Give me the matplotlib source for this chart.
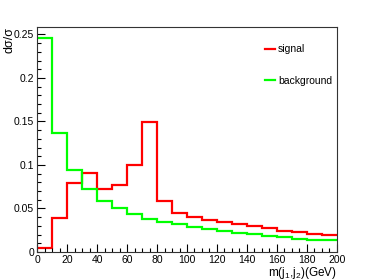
import matplotlib
matplotlib.use("Agg")
import matplotlib.pyplot as plt
from matplotlib.ticker import MultipleLocator, FormatStrFormatter
import numpy as np

plt.rcParams['font.family'] = ['Liberation Sans', 'DejaVu Sans']

# bin edges in GeV
edges = np.arange(0, 210, 10)
signal = [0.005, 0.039, 0.079, 0.0905, 0.072, 0.0775, 0.1005, 0.149, 0.059, 0.045,
          0.040, 0.0366, 0.0346, 0.0323, 0.0297, 0.0274, 0.0243, 0.0228, 0.0212, 0.019]
background = [0.2454, 0.137, 0.094, 0.0722, 0.059, 0.050, 0.0438, 0.0377, 0.0343, 0.032,
              0.0289, 0.0259, 0.0239, 0.0224, 0.0205, 0.0185, 0.0174, 0.0155, 0.0139, 0.0136]

fig = plt.figure(figsize=(3.74, 2.80), dpi=100)
ax = fig.add_axes([0.099, 0.1, 0.802, 0.8036])

ax.stairs(signal, edges, baseline=None, color="#ff0000", lw=1.6, label="signal")
ax.stairs(background, edges, baseline=None, color="#00ff00", lw=1.6, label="background")

ax.set_xlim(0, 200)
ax.set_ylim(0, 0.2585)

ax.xaxis.set_major_locator(MultipleLocator(20))
ax.xaxis.set_minor_locator(MultipleLocator(5))
ax.yaxis.set_major_locator(MultipleLocator(0.05))
ax.yaxis.set_minor_locator(MultipleLocator(0.01))
ax.yaxis.set_major_formatter(FormatStrFormatter('%g'))
ax.tick_params(which='both', direction='in', top=False, right=False, labelsize=7.5, pad=2)
ax.tick_params(which='major', length=6, width=0.8)
ax.tick_params(which='minor', length=3, width=0.8)
for s in ax.spines.values():
    s.set_linewidth(0.8)
    s.set_color("#333333")

ax.set_xlabel("m(j$\\mathregular{_1}$,j$\\mathregular{_2}$)(GeV)", fontsize=8.5, loc='right', labelpad=0)
ax.set_ylabel("d\u03c3/\u03c3", fontsize=9, loc='top')
ax.yaxis.set_label_coords(-0.072, 1.0)

leg = ax.legend(loc='upper left', bbox_to_anchor=(0.73, 0.965), frameon=False,
                fontsize=7.5, handlelength=0.9, handletextpad=0.3, labelspacing=2.1)

fig.savefig("out.png", dpi=100)
